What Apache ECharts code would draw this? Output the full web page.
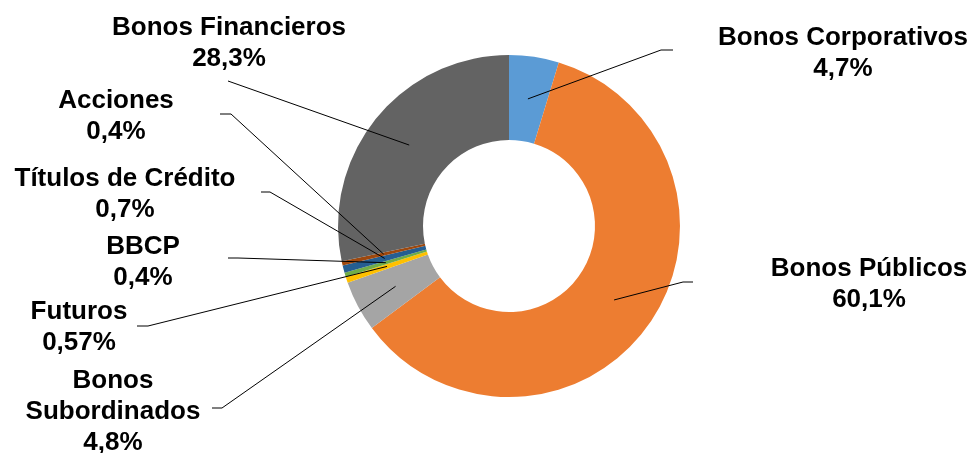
<!DOCTYPE html>
<html><head><meta charset="utf-8">
<script src="https://cdn.jsdelivr.net/npm/echarts@6/dist/echarts.min.js"></script>
<style>html,body{margin:0;padding:0;background:#fff}#c{width:974px;height:453px}</style>
</head><body><div id="c"></div>
<script>
// ---- data ----
const categories = ['Bonos Corporativos', 'Bonos Públicos', 'Bonos\nSubordinados', 'Futuros', 'BBCP', 'Títulos de Crédito', 'Acciones', 'Bonos Financieros'];
const shares = [4.7, 60.1, 4.8, 0.57, 0.4, 0.7, 0.4, 28.3];

// ---- styles / layout ----
const colors = ['#5B9BD5', '#ED7D31', '#A5A5A5', '#FFC000', '#70AD47', '#255E91', '#9E480E', '#636363'];
const CX = 509, CY = 226, R0 = 86, R1 = 171;
const guides = [
  { label: [843, 53],  line: [[661, 50], [673, 50]] },
  { label: [869, 284], line: [[683, 282], [693, 282]] },
  { label: [113, 412], line: [[222, 408], [212, 408]] },
  { label: [79, 327],  line: [[148, 326], [137, 326]] },
  { label: [143, 262], line: [[238, 258], [228, 258]] },
  { label: [125, 194], line: [[270, 192], [261, 192]] },
  { label: [116, 116], line: [[231, 114], [220, 114]] },
  { label: [229, 43],  line: [[228, 81], [228, 81]] }
];

const pieData = categories.map((n, i) => ({ name: n, value: shares[i] }));
const common = {
  type: 'pie',
  center: [CX, CY],
  radius: [R0, R1],
  startAngle: 90,
  clockwise: true,
  avoidLabelOverlap: false,
  minShowLabelAngle: 0,
  emphasis: { disabled: true },
  data: pieData
};

const chart = echarts.init(document.getElementById('c'), null, { renderer: 'canvas' });
chart.setOption({
  animation: false,
  color: colors,
  series: [
    Object.assign({}, common, {
      z: 2,
      itemStyle: { borderWidth: 0 },
      label: { show: false },
      labelLine: { show: false }
    }),
    Object.assign({}, common, {
      z: 5,
      silent: true,
      itemStyle: { color: 'rgba(0,0,0,0)', borderWidth: 0 },
      label: {
        show: true,
        position: 'outside',
        formatter: p => p.name + '\n' + String(p.value).replace('.', ',') + '%',
        fontFamily: '"Liberation Sans", Arial, sans-serif',
        fontWeight: 'bold',
        fontSize: 26,
        lineHeight: 31,
        color: '#000',
        align: 'center'
      },
      labelLine: { show: true, smooth: false, lineStyle: { color: '#000', width: 1 } },
      labelLayout: function (params) {
        const g = guides[params.dataIndex];
        const s = params.labelLinePoints[0];
        const k = (R0 + R1) / 2 / R1;
        const start = [CX + (s[0] - CX) * k, CY + (s[1] - CY) * k];
        return {
          x: g.label[0], y: g.label[1],
          align: 'center', verticalAlign: 'middle',
          labelLinePoints: [start, g.line[0], g.line[1]]
        };
      }
    })
  ]
});
</script>
</body></html>
